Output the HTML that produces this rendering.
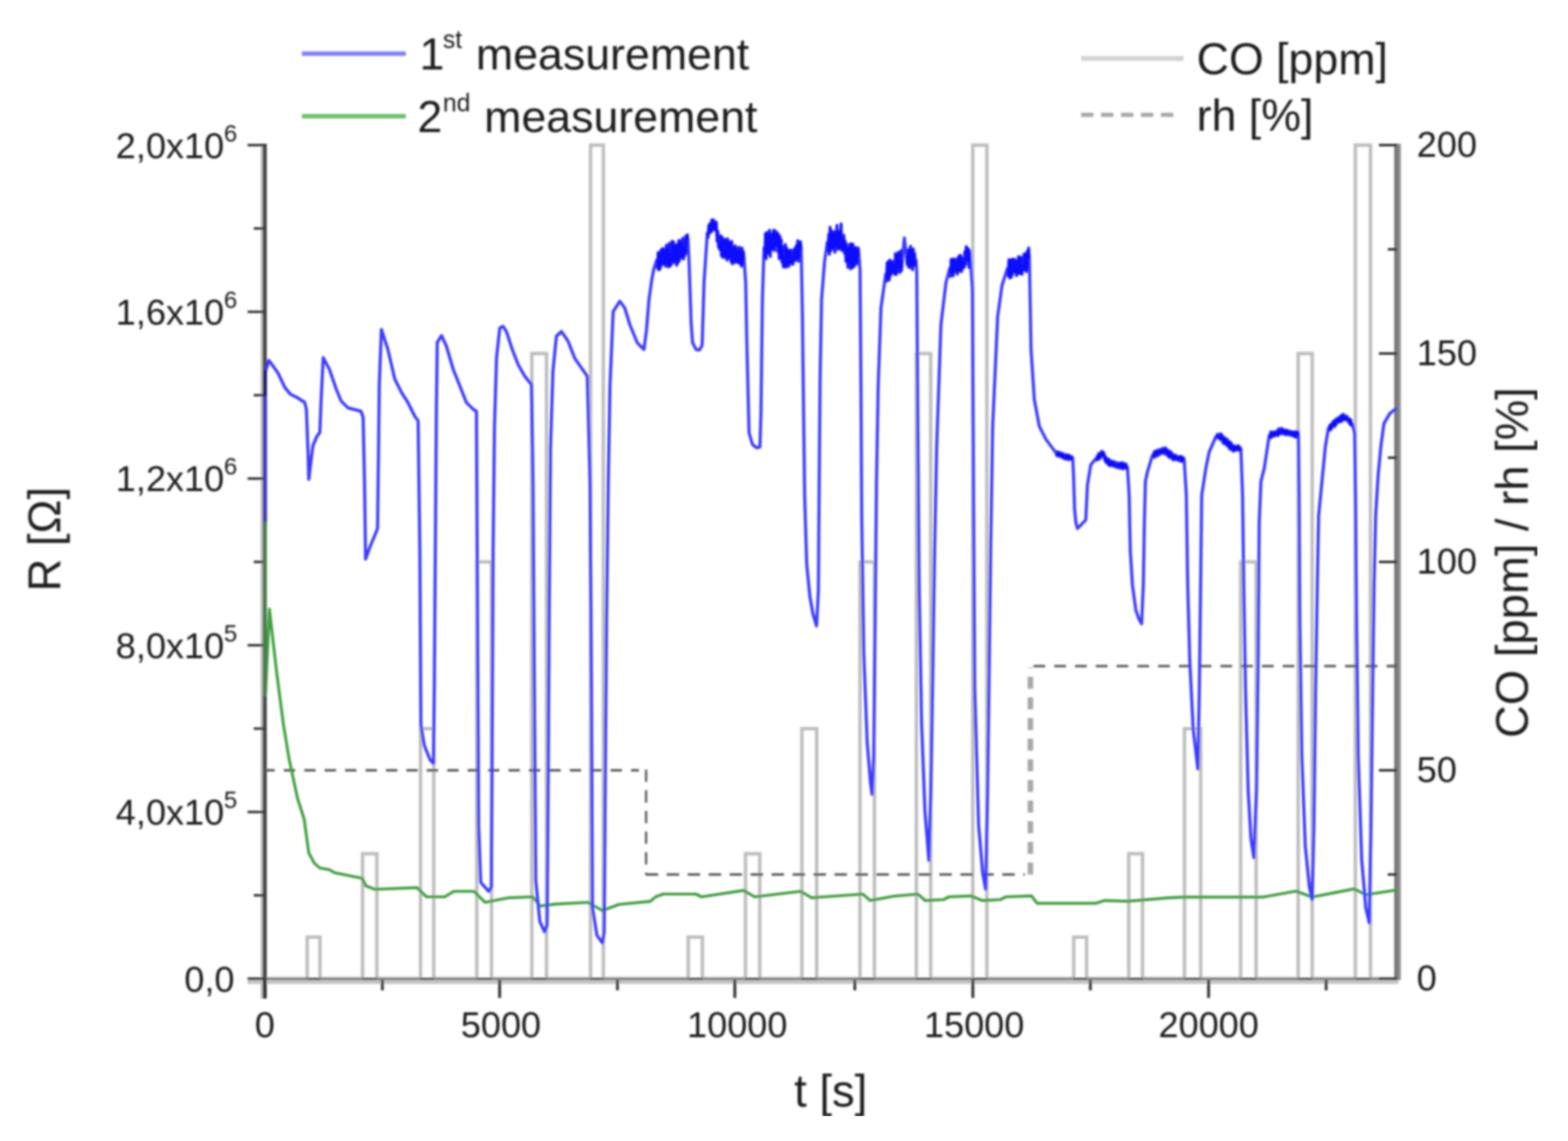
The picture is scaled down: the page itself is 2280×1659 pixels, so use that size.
<!DOCTYPE html>
<html><head><meta charset="utf-8"><title>Sensor response</title>
<style>
html,body{margin:0;padding:0;background:#fff;}
body{width:2280px;height:1659px;overflow:hidden;}
svg{display:block;}
</style></head><body>
<svg width="2280" height="1659" viewBox="0 0 2280 1659">
<rect width="2280" height="1659" fill="#ffffff"/>
<defs><filter id="soft" x="0" y="0" width="100%" height="100%"><feGaussianBlur stdDeviation="1.60"/></filter></defs>
<g filter="url(#soft)">
<polyline points="385.0,1423.0 446.7,1423.0 446.7,1362.4 465.3,1362.4 465.3,1423.0 527.2,1423.0 527.2,1241.2 548.0,1241.2 548.0,1423.0 611.5,1423.0 611.5,1059.4 630.7,1059.4 630.7,1423.0 693.3,1423.0 693.3,817.0 714.7,817.0 714.7,1423.0 773.3,1423.0 773.3,514.0 794.7,514.0 794.7,1423.0 858.7,1423.0 858.7,211.0 877.3,211.0 877.3,1423.0 1000.8,1423.0 1000.8,1362.4 1021.3,1362.4 1021.3,1423.0 1084.0,1423.0 1084.0,1241.2 1104.8,1241.2 1104.8,1423.0 1166.0,1423.0 1166.0,1059.4 1187.5,1059.4 1187.5,1423.0 1250.5,1423.0 1250.5,817.0 1271.5,817.0 1271.5,1423.0 1332.5,1423.0 1332.5,514.0 1353.3,514.0 1353.3,1423.0 1414.5,1423.0 1414.5,211.0 1435.0,211.0 1435.0,1423.0 1561.3,1423.0 1561.3,1362.4 1580.0,1362.4 1580.0,1423.0 1641.3,1423.0 1641.3,1241.2 1661.3,1241.2 1661.3,1423.0 1722.4,1423.0 1722.4,1059.4 1745.9,1059.4 1745.9,1423.0 1804.0,1423.0 1804.0,817.0 1826.5,817.0 1826.5,1423.0 1887.7,1423.0 1887.7,514.0 1908.0,514.0 1908.0,1423.0 1970.8,1423.0 1970.8,211.0 1992.8,211.0 1992.8,1423.0 2031.5,1423.0" fill="none" stroke="#bebebe" stroke-width="5" stroke-linejoin="miter"/>
<line x1="360" y1="1427.7" x2="2033.5" y2="1427.7" stroke="#c4c4c4" stroke-width="6"/>
<line x1="360" y1="1423.3" x2="2033.5" y2="1423.3" stroke="#757575" stroke-width="3"/>
<line x1="380.5" y1="209" x2="380.5" y2="1452" stroke="#bdbdbd" stroke-width="3"/>
<line x1="385" y1="209" x2="385" y2="1452" stroke="#4a4a4a" stroke-width="6"/>
<line x1="2030.5" y1="209" x2="2030.5" y2="1425" stroke="#777777" stroke-width="6.5"/>
<line x1="2035.3" y1="209" x2="2035.3" y2="1425" stroke="#8e8e8e" stroke-width="3.2"/>
<line x1="360" y1="1423.0" x2="385" y2="1423.0" stroke="#333" stroke-width="3.6"/>
<line x1="369" y1="1301.8" x2="385" y2="1301.8" stroke="#333" stroke-width="3.6"/>
<line x1="360" y1="1180.6" x2="385" y2="1180.6" stroke="#333" stroke-width="3.6"/>
<line x1="369" y1="1059.4" x2="385" y2="1059.4" stroke="#333" stroke-width="3.6"/>
<line x1="360" y1="938.2" x2="385" y2="938.2" stroke="#333" stroke-width="3.6"/>
<line x1="369" y1="817.0" x2="385" y2="817.0" stroke="#333" stroke-width="3.6"/>
<line x1="360" y1="695.8" x2="385" y2="695.8" stroke="#333" stroke-width="3.6"/>
<line x1="369" y1="574.6" x2="385" y2="574.6" stroke="#333" stroke-width="3.6"/>
<line x1="360" y1="453.4" x2="385" y2="453.4" stroke="#333" stroke-width="3.6"/>
<line x1="369" y1="332.2" x2="385" y2="332.2" stroke="#333" stroke-width="3.6"/>
<line x1="360" y1="211.0" x2="385" y2="211.0" stroke="#333" stroke-width="3.6"/>
<line x1="2005" y1="1423.0" x2="2031" y2="1423.0" stroke="#222" stroke-width="3.4"/>
<line x1="2018" y1="1271.5" x2="2031" y2="1271.5" stroke="#222" stroke-width="3.4"/>
<line x1="2005" y1="1120.0" x2="2031" y2="1120.0" stroke="#222" stroke-width="3.4"/>
<line x1="2018" y1="968.5" x2="2031" y2="968.5" stroke="#222" stroke-width="3.4"/>
<line x1="2005" y1="817.0" x2="2031" y2="817.0" stroke="#222" stroke-width="3.4"/>
<line x1="2018" y1="665.5" x2="2031" y2="665.5" stroke="#222" stroke-width="3.4"/>
<line x1="2005" y1="514.0" x2="2031" y2="514.0" stroke="#222" stroke-width="3.4"/>
<line x1="2018" y1="362.5" x2="2031" y2="362.5" stroke="#222" stroke-width="3.4"/>
<line x1="2005" y1="211.0" x2="2031" y2="211.0" stroke="#222" stroke-width="3.4"/>
<line x1="385.0" y1="1425" x2="385.0" y2="1451" stroke="#333" stroke-width="4.2"/>
<line x1="726.5" y1="1425" x2="726.5" y2="1451" stroke="#333" stroke-width="4.2"/>
<line x1="1068.5" y1="1425" x2="1068.5" y2="1451" stroke="#333" stroke-width="4.2"/>
<line x1="1414.6" y1="1425" x2="1414.6" y2="1451" stroke="#333" stroke-width="4.2"/>
<line x1="1757.4" y1="1425" x2="1757.4" y2="1451" stroke="#333" stroke-width="4.2"/>
<line x1="556.0" y1="1425" x2="556.0" y2="1440" stroke="#3a3a3a" stroke-width="4.2"/>
<line x1="897.8" y1="1425" x2="897.8" y2="1440" stroke="#3a3a3a" stroke-width="4.2"/>
<line x1="1243.0" y1="1425" x2="1243.0" y2="1440" stroke="#3a3a3a" stroke-width="4.2"/>
<line x1="1585.5" y1="1425" x2="1585.5" y2="1440" stroke="#3a3a3a" stroke-width="4.2"/>
<line x1="1928.3" y1="1425" x2="1928.3" y2="1440" stroke="#3a3a3a" stroke-width="4.2"/>
<line x1="446.7" y1="1423.3" x2="465.3" y2="1423.3" stroke="#444" stroke-width="3"/>
<line x1="527.2" y1="1423.3" x2="548.0" y2="1423.3" stroke="#444" stroke-width="3"/>
<line x1="611.5" y1="1423.3" x2="630.7" y2="1423.3" stroke="#444" stroke-width="3"/>
<line x1="693.3" y1="1423.3" x2="714.7" y2="1423.3" stroke="#444" stroke-width="3"/>
<line x1="773.3" y1="1423.3" x2="794.7" y2="1423.3" stroke="#444" stroke-width="3"/>
<line x1="858.7" y1="1423.3" x2="877.3" y2="1423.3" stroke="#444" stroke-width="3"/>
<line x1="1000.8" y1="1423.3" x2="1021.3" y2="1423.3" stroke="#444" stroke-width="3"/>
<line x1="1084.0" y1="1423.3" x2="1104.8" y2="1423.3" stroke="#444" stroke-width="3"/>
<line x1="1166.0" y1="1423.3" x2="1187.5" y2="1423.3" stroke="#444" stroke-width="3"/>
<line x1="1250.5" y1="1423.3" x2="1271.5" y2="1423.3" stroke="#444" stroke-width="3"/>
<line x1="1332.5" y1="1423.3" x2="1353.3" y2="1423.3" stroke="#444" stroke-width="3"/>
<line x1="1414.5" y1="1423.3" x2="1435.0" y2="1423.3" stroke="#444" stroke-width="3"/>
<line x1="1561.3" y1="1423.3" x2="1580.0" y2="1423.3" stroke="#444" stroke-width="3"/>
<line x1="1641.3" y1="1423.3" x2="1661.3" y2="1423.3" stroke="#444" stroke-width="3"/>
<line x1="1722.4" y1="1423.3" x2="1745.9" y2="1423.3" stroke="#444" stroke-width="3"/>
<line x1="1804.0" y1="1423.3" x2="1826.5" y2="1423.3" stroke="#444" stroke-width="3"/>
<line x1="1887.7" y1="1423.3" x2="1908.0" y2="1423.3" stroke="#444" stroke-width="3"/>
<line x1="1970.8" y1="1423.3" x2="1992.8" y2="1423.3" stroke="#444" stroke-width="3"/>
<line x1="383.0" y1="1120.0" x2="929.0" y2="1120.0" stroke="#555" stroke-width="3.3" stroke-dasharray="16.5,13.2"/>
<line x1="939.5" y1="1119.0" x2="939.5" y2="1271.5" stroke="#5c5c5c" stroke-width="3.3" stroke-dasharray="18,12"/>
<line x1="939.0" y1="1271.5" x2="1490.0" y2="1271.5" stroke="#555" stroke-width="3.3" stroke-dasharray="18,12.5"/>
<line x1="1498.3" y1="1271.5" x2="1498.3" y2="970.5" stroke="#a8a8a8" stroke-width="8.0" stroke-dasharray="17.5,12.5"/>
<line x1="1502.8" y1="968.5" x2="2031.5" y2="968.5" stroke="#5a5a5a" stroke-width="3.3" stroke-dasharray="17,13.2"/>
<polyline points="386.0,759.0 386.0,1011.0 391.8,885.5 394.5,910.0 402.7,981.0 412.3,1054.5 420.4,1103.6 424.5,1122.7 432.7,1161.0 442.3,1191.0 449.0,1240.0 457.0,1255.0 465.0,1262.0 479.0,1264.5 486.7,1269.0 526.7,1277.0 532.0,1288.0 545.0,1293.0 606.7,1290.7 620.0,1304.0 646.7,1304.0 660.0,1296.0 689.3,1296.0 705.3,1312.0 740.0,1305.3 774.7,1304.0 785.3,1317.3 806.7,1314.7 854.7,1312.0 876.0,1324.0 900.0,1315.0 945.3,1310.7 953.3,1304.0 964.0,1300.0 1012.0,1300.0 1020.0,1304.0 1081.3,1294.7 1097.3,1304.0 1164.0,1296.0 1180.0,1305.3 1254.7,1300.0 1265.3,1309.3 1300.0,1303.0 1334.7,1300.0 1345.3,1309.3 1372.0,1308.0 1380.0,1304.0 1412.0,1302.7 1428.0,1309.3 1454.7,1308.0 1462.7,1304.0 1500.0,1302.7 1508.0,1313.3 1593.3,1313.3 1606.7,1309.3 1640.0,1310.4 1700.0,1305.3 1721.4,1304.3 1836.8,1304.3 1884.3,1295.8 1908.0,1304.3 1969.0,1292.4 1986.0,1301.0 2031.0,1294.0" fill="none" stroke="#3d9f3d" stroke-width="4.2" stroke-linejoin="round" stroke-linecap="round"/>
<polyline points="386.0,759.0 386.0,540.0 391.0,524.0 404.0,542.0 414.0,563.0 422.0,573.0 432.0,578.0 443.0,585.0 445.5,595.0 448.0,660.0 449.0,697.0 452.0,672.0 455.0,648.0 461.0,634.0 465.0,629.0 467.0,580.0 470.0,520.0 479.0,537.0 489.0,566.0 496.0,583.0 506.0,593.0 525.0,598.0 528.0,607.0 530.0,700.0 531.6,813.0 537.6,796.0 546.0,776.0 549.0,768.0 550.5,650.0 551.5,560.0 554.6,479.0 564.0,508.0 574.0,551.0 584.0,571.0 593.0,585.0 603.0,605.0 608.0,612.0 610.5,800.0 612.0,1054.0 617.0,1084.0 625.5,1105.0 630.3,1110.0 631.5,1000.0 633.0,800.0 634.5,600.0 635.8,498.0 642.0,488.0 649.0,503.0 659.0,537.0 668.6,561.0 678.0,585.0 688.0,595.0 692.8,598.0 694.0,828.0 696.0,1200.0 699.0,1283.0 710.7,1296.0 714.5,1290.0 716.0,1000.0 717.0,800.0 719.0,620.0 722.0,520.0 726.7,477.0 731.5,474.5 736.4,482.0 745.0,508.5 753.4,530.0 763.0,547.0 772.8,559.0 775.0,700.0 777.0,1000.0 779.0,1280.0 785.0,1340.0 792.0,1355.0 795.5,1345.0 797.0,1150.0 798.5,900.0 800.5,650.0 804.0,540.0 809.0,489.0 816.4,482.0 826.0,496.0 835.8,521.0 845.5,535.0 854.0,547.0 858.0,700.0 860.0,1000.0 861.5,1320.0 868.0,1360.0 876.0,1371.0 878.5,1355.0 880.0,1150.0 882.0,900.0 884.5,700.0 887.0,560.0 891.6,453.0 901.3,438.0 908.6,448.0 915.8,472.0 926.7,498.5 936.4,508.2 940.0,480.0 943.7,435.5 948.0,405.0 951.0,390.0 955.0,378.0 956.0,389.8 957.0,367.2 958.0,392.6 959.0,367.4 960.0,390.8 961.0,363.7 962.0,385.2 963.0,361.6 964.0,384.3 965.0,361.8 966.0,384.1 967.0,364.8 968.0,387.2 969.0,356.4 970.0,383.4 971.0,362.2 972.0,388.2 973.0,354.0 974.0,387.0 975.0,372.0 976.0,385.1 977.0,350.9 978.0,380.2 979.0,351.2 980.0,381.9 981.0,358.2 982.0,379.0 983.0,355.4 984.0,385.8 985.0,355.8 986.0,382.2 987.0,349.7 988.0,378.9 989.0,349.7 990.0,374.4 991.0,354.2 992.0,375.0 993.0,346.2 994.0,376.5 995.0,362.0 996.1,370.8 997.2,343.3 998.3,367.4 999.4,341.3 1000.5,350.0 1002.0,382.0 1005.0,470.0 1007.0,498.0 1012.0,508.0 1017.0,509.0 1021.0,502.0 1023.7,411.0 1028.5,338.5 1029.6,345.4 1030.7,327.2 1031.8,339.2 1032.9,324.5 1034.0,337.3 1035.0,319.7 1036.1,335.1 1037.2,319.5 1038.3,333.1 1039.4,322.0 1040.5,334.9 1041.6,323.2 1042.7,351.0 1043.8,336.3 1044.9,359.9 1046.0,355.0 1047.0,363.6 1048.0,342.7 1049.0,371.8 1050.0,345.0 1051.0,374.2 1052.0,348.8 1053.0,374.0 1054.0,347.7 1055.0,374.3 1056.0,350.4 1057.0,378.2 1058.0,347.3 1059.0,376.2 1060.0,351.3 1061.0,373.8 1062.0,352.4 1063.0,380.7 1064.0,351.1 1065.0,383.7 1066.0,359.1 1067.0,370.0 1068.0,381.7 1069.0,357.3 1070.0,379.4 1071.0,360.3 1072.0,381.8 1073.0,364.6 1074.0,381.8 1075.0,359.6 1076.0,383.6 1077.0,365.5 1078.0,387.0 1079.0,360.8 1080.0,385.2 1081.0,365.8 1082.0,378.0 1084.3,411.0 1086.0,500.0 1089.2,629.0 1094.0,646.0 1100.0,651.0 1105.0,650.0 1106.5,600.0 1108.6,435.5 1111.0,360.0 1112.0,374.6 1113.0,339.4 1114.0,376.1 1115.0,338.1 1116.0,368.5 1117.0,341.6 1118.0,367.9 1119.0,334.8 1120.0,373.0 1121.0,341.5 1122.0,362.7 1123.0,339.0 1124.0,361.9 1125.0,334.7 1126.0,364.3 1127.0,335.6 1128.0,347.0 1129.0,357.8 1130.0,338.1 1131.0,365.8 1132.0,340.7 1133.0,376.1 1134.0,343.6 1135.0,375.7 1136.0,348.5 1137.0,381.5 1138.0,358.6 1139.0,388.1 1140.0,372.0 1141.0,388.0 1142.0,355.6 1143.0,388.5 1144.0,360.7 1145.0,384.9 1146.0,363.9 1147.0,387.5 1148.0,364.6 1149.0,382.3 1150.0,363.5 1151.0,383.5 1152.0,374.0 1153.0,384.5 1154.0,363.5 1155.0,379.3 1156.0,360.7 1157.0,378.5 1158.0,356.8 1159.0,375.9 1160.0,349.9 1161.0,379.9 1162.0,355.2 1163.0,374.4 1164.0,351.4 1165.0,362.0 1166.8,460.0 1168.5,600.0 1170.0,720.0 1173.0,820.0 1177.6,867.0 1182.0,892.0 1187.3,910.0 1190.0,860.0 1191.2,700.0 1192.5,550.0 1194.6,435.5 1199.0,380.0 1203.0,352.0 1204.0,364.9 1205.0,340.8 1206.0,369.8 1207.0,330.4 1208.0,364.8 1209.0,335.5 1210.0,359.9 1211.0,339.1 1212.0,362.2 1213.0,336.7 1214.0,367.0 1215.0,337.2 1216.0,357.3 1217.0,327.7 1218.0,362.3 1219.0,336.1 1220.0,361.9 1221.0,336.8 1222.0,361.1 1223.0,325.5 1224.0,364.2 1225.0,345.0 1226.0,363.8 1227.0,342.0 1228.0,368.3 1229.0,350.7 1230.0,380.0 1231.0,354.8 1232.0,372.0 1233.0,388.9 1234.0,359.9 1235.0,383.0 1236.0,354.8 1237.0,391.0 1238.0,354.4 1239.0,389.2 1240.0,354.7 1241.0,388.5 1242.0,361.0 1243.0,386.1 1244.0,359.6 1245.0,380.9 1246.0,363.1 1247.0,383.6 1248.0,360.6 1249.0,372.0 1250.6,392.0 1251.8,550.0 1253.0,750.0 1256.0,950.0 1261.0,1080.0 1266.0,1140.0 1268.0,1155.0 1270.5,1100.0 1272.5,900.0 1274.5,700.0 1277.0,560.0 1281.0,447.6 1288.0,398.0 1289.0,409.0 1290.0,381.9 1291.0,405.0 1292.0,380.1 1293.0,407.3 1294.0,378.0 1295.0,400.4 1296.0,381.8 1297.0,397.3 1298.0,380.0 1299.0,395.1 1300.0,386.0 1301.0,398.7 1302.0,368.8 1303.0,399.3 1304.0,371.3 1305.0,396.3 1306.0,367.1 1307.0,389.7 1308.0,367.0 1309.0,396.0 1310.0,364.5 1311.0,393.2 1312.0,378.0 1315.0,346.0 1318.0,372.0 1319.0,384.4 1320.0,363.6 1321.0,388.1 1322.0,363.1 1323.0,389.1 1324.0,358.0 1325.0,386.2 1326.0,364.2 1327.0,392.2 1328.0,362.0 1329.0,385.8 1330.0,368.4 1331.0,386.5 1332.0,378.0 1333.0,394.0 1334.5,600.0 1336.5,850.0 1340.0,1050.0 1345.0,1180.0 1350.7,1251.0 1353.5,1150.0 1356.0,1000.0 1359.0,800.0 1362.0,650.0 1368.2,472.0 1375.5,411.0 1381.0,390.0 1382.0,402.1 1383.0,377.4 1384.0,395.8 1385.0,376.5 1386.0,401.1 1387.0,376.9 1388.0,395.7 1389.0,376.9 1390.0,393.3 1391.0,380.0 1392.0,398.6 1393.0,374.5 1394.0,394.6 1395.0,371.7 1396.0,393.1 1397.0,371.3 1398.0,395.1 1399.0,375.3 1400.0,390.2 1401.0,382.0 1402.0,388.9 1403.0,365.4 1404.0,384.8 1405.0,358.4 1406.0,365.0 1407.0,379.0 1408.0,361.4 1409.0,388.8 1410.0,364.6 1411.0,378.0 1414.0,420.0 1415.5,700.0 1417.3,1000.0 1423.0,1200.0 1429.0,1270.0 1433.3,1293.0 1436.0,1150.0 1438.0,1000.0 1440.5,800.0 1443.4,620.0 1450.7,460.0 1457.0,415.0 1465.0,390.0 1466.0,400.7 1467.0,377.5 1468.0,404.1 1469.0,378.5 1470.0,403.8 1471.0,377.3 1472.0,400.0 1473.0,376.7 1474.0,395.1 1475.0,376.9 1476.0,396.1 1477.0,380.2 1478.0,400.9 1479.0,378.3 1480.0,397.7 1481.0,373.1 1482.0,397.9 1483.0,376.1 1484.0,397.1 1485.0,373.7 1486.0,399.0 1487.0,385.0 1488.1,393.0 1489.2,369.1 1490.3,392.2 1491.4,369.7 1492.4,395.2 1493.5,365.2 1494.6,390.9 1495.7,360.5 1496.8,375.0 1498.0,440.0 1499.2,508.0 1504.0,581.0 1511.3,620.0 1521.0,639.0 1535.6,658.5 1536.6,662.4 1537.7,656.9 1538.7,662.7 1539.7,657.7 1540.8,663.4 1541.8,658.3 1542.8,664.2 1543.9,659.5 1544.9,665.2 1545.9,659.6 1547.0,666.5 1548.0,664.0 1549.1,667.5 1550.1,660.9 1551.2,666.7 1552.3,662.0 1553.4,668.4 1554.4,661.8 1555.5,667.2 1556.6,663.6 1557.7,668.1 1558.7,664.1 1559.8,666.0 1561.0,690.0 1562.5,740.0 1564.3,759.0 1566.7,768.5 1572.0,763.0 1578.8,756.0 1581.2,705.5 1586.0,676.0 1593.4,667.0 1594.5,668.9 1595.6,662.9 1596.6,668.3 1597.7,659.2 1598.8,667.1 1599.9,659.1 1600.9,664.8 1602.0,656.0 1603.1,659.0 1604.1,663.3 1605.2,658.1 1606.2,669.1 1607.2,663.4 1608.2,672.6 1609.3,666.5 1610.3,671.5 1611.3,675.3 1612.3,667.5 1613.3,677.0 1614.4,670.4 1615.4,676.7 1616.4,670.2 1617.4,677.2 1618.4,671.8 1619.5,677.9 1620.5,671.2 1621.5,677.8 1622.5,676.0 1623.6,679.8 1624.6,673.1 1625.7,678.8 1626.7,673.7 1627.8,680.7 1628.8,673.6 1629.9,679.6 1631.0,672.7 1632.0,681.9 1633.1,673.1 1634.1,680.5 1635.2,675.4 1636.2,680.7 1637.3,674.4 1638.3,681.7 1639.4,679.0 1641.9,720.0 1643.5,800.0 1646.7,851.0 1651.6,887.0 1656.0,900.0 1660.0,907.0 1662.5,850.0 1664.0,760.0 1665.5,700.0 1668.5,686.0 1675.8,662.0 1676.9,663.9 1678.0,657.6 1679.0,664.9 1680.1,655.5 1681.2,662.1 1682.3,656.1 1683.3,662.7 1684.4,653.9 1685.5,657.0 1686.6,660.7 1687.7,654.0 1688.7,658.5 1689.8,651.9 1690.9,658.9 1692.0,653.0 1693.0,659.7 1694.1,650.9 1695.2,654.5 1696.3,660.9 1697.4,653.6 1698.4,663.2 1699.5,655.8 1700.6,665.3 1701.7,656.6 1702.7,665.7 1703.8,658.4 1704.9,664.0 1705.9,668.9 1706.9,661.7 1707.9,667.4 1708.9,661.6 1709.9,668.3 1710.9,663.3 1711.9,668.6 1712.9,664.1 1713.9,669.3 1714.9,664.0 1715.9,670.2 1716.9,663.4 1717.9,670.7 1718.9,664.6 1719.9,671.0 1720.9,665.6 1721.9,669.0 1725.0,720.0 1727.0,850.0 1730.0,960.0 1735.0,1060.0 1741.8,1118.0 1744.0,1000.0 1745.8,850.0 1747.4,720.0 1753.4,681.0 1758.3,657.0 1768.0,635.0 1769.2,636.7 1770.4,631.2 1771.6,635.7 1772.8,633.0 1773.9,639.1 1775.0,630.5 1776.0,639.3 1777.1,632.7 1778.2,643.8 1779.3,635.9 1780.3,645.4 1781.4,636.9 1782.5,642.0 1783.6,647.4 1784.7,638.8 1785.7,649.3 1786.8,642.1 1787.9,652.5 1789.0,642.7 1790.0,653.6 1791.1,645.4 1792.2,652.0 1793.2,656.0 1794.2,648.2 1795.2,655.2 1796.2,648.9 1797.2,654.3 1798.2,649.5 1799.3,654.3 1800.3,647.9 1801.3,654.8 1802.3,649.4 1803.3,654.4 1804.3,652.0 1806.8,720.0 1808.5,850.0 1811.0,1000.0 1815.0,1150.0 1819.0,1220.0 1823.2,1247.0 1827.0,1150.0 1829.5,950.0 1831.0,760.0 1833.5,700.0 1838.3,681.0 1845.6,633.0 1846.7,637.0 1847.8,627.9 1848.8,635.9 1849.9,628.8 1851.0,634.1 1852.1,628.1 1853.1,634.0 1854.2,627.8 1855.3,630.0 1856.4,632.8 1857.5,626.1 1858.5,633.2 1859.6,623.3 1860.7,631.1 1861.8,627.0 1862.8,630.0 1863.8,622.8 1864.8,630.7 1865.9,624.8 1866.9,630.3 1867.9,625.2 1868.9,632.0 1869.9,625.4 1870.9,631.8 1872.0,625.8 1873.0,631.7 1874.0,626.9 1875.0,630.0 1876.0,632.6 1877.0,627.1 1878.0,632.7 1879.0,628.4 1880.0,633.7 1881.0,628.1 1882.0,634.8 1883.0,627.7 1884.0,635.5 1885.0,627.6 1886.0,635.7 1887.0,627.4 1888.0,632.0 1889.0,720.0 1890.0,900.0 1893.0,1100.0 1898.0,1230.0 1904.0,1290.0 1908.0,1308.0 1910.5,1200.0 1913.0,1000.0 1915.5,850.0 1917.4,750.0 1922.9,693.0 1927.2,649.0 1931.6,623.0 1932.6,625.3 1933.6,618.3 1934.6,625.2 1935.6,617.1 1936.6,622.8 1937.6,614.1 1938.7,619.4 1939.7,611.9 1940.7,619.9 1941.7,610.7 1942.7,617.8 1943.7,608.5 1944.7,612.0 1945.8,613.9 1946.9,607.2 1948.0,613.5 1949.1,605.0 1950.2,613.0 1951.2,603.8 1952.3,611.2 1953.4,602.3 1954.5,610.1 1955.6,605.5 1956.7,610.5 1957.8,604.8 1958.9,610.9 1960.0,607.2 1961.0,613.9 1962.1,609.4 1963.2,617.2 1964.3,610.3 1965.4,618.8 1966.5,616.0 1969.8,630.0 1971.0,720.0 1972.5,900.0 1975.0,1100.0 1980.0,1250.0 1986.0,1320.0 1991.1,1342.0 1993.5,1200.0 1996.0,1000.0 1998.0,850.0 2000.3,750.0 2004.0,690.0 2007.9,649.0 2012.3,616.0 2021.0,601.0 2029.7,594.5" fill="none" stroke="#3b3bff" stroke-width="4.5" stroke-linejoin="round" stroke-linecap="round"/>
<polyline points="955.0,378.0 956.0,389.8 957.0,367.2 958.0,392.6 959.0,367.4 960.0,390.8 961.0,363.7 962.0,385.2 963.0,361.6 964.0,384.3 965.0,361.8 966.0,384.1 967.0,364.8 968.0,387.2 969.0,356.4 970.0,383.4 971.0,362.2 972.0,388.2 973.0,354.0 974.0,387.0 975.0,372.0" fill="none" stroke="#0c0cff" stroke-width="2.6" stroke-linejoin="round"/>
<polyline points="975.0,372.0 976.0,385.1 977.0,350.9 978.0,380.2 979.0,351.2 980.0,381.9 981.0,358.2 982.0,379.0 983.0,355.4 984.0,385.8 985.0,355.8 986.0,382.2 987.0,349.7 988.0,378.9 989.0,349.7 990.0,374.4 991.0,354.2 992.0,375.0 993.0,346.2 994.0,376.5 995.0,362.0" fill="none" stroke="#0c0cff" stroke-width="2.6" stroke-linejoin="round"/>
<polyline points="995.0,362.0 996.1,370.8 997.2,343.3 998.3,367.4 999.4,341.3 1000.5,350.0" fill="none" stroke="#0c0cff" stroke-width="2.6" stroke-linejoin="round"/>
<polyline points="1028.5,338.5 1029.6,345.4 1030.7,327.2 1031.8,339.2 1032.9,324.5 1034.0,337.3 1035.0,319.7 1036.1,335.1 1037.2,319.5 1038.3,333.1 1039.4,322.0" fill="none" stroke="#0c0cff" stroke-width="2.6" stroke-linejoin="round"/>
<polyline points="1039.4,322.0 1040.5,334.9 1041.6,323.2 1042.7,351.0 1043.8,336.3 1044.9,359.9 1046.0,355.0" fill="none" stroke="#0c0cff" stroke-width="2.6" stroke-linejoin="round"/>
<polyline points="1046.0,355.0 1047.0,363.6 1048.0,342.7 1049.0,371.8 1050.0,345.0 1051.0,374.2 1052.0,348.8 1053.0,374.0 1054.0,347.7 1055.0,374.3 1056.0,350.4 1057.0,378.2 1058.0,347.3 1059.0,376.2 1060.0,351.3 1061.0,373.8 1062.0,352.4 1063.0,380.7 1064.0,351.1 1065.0,383.7 1066.0,359.1 1067.0,370.0" fill="none" stroke="#0c0cff" stroke-width="2.6" stroke-linejoin="round"/>
<polyline points="1067.0,370.0 1068.0,381.7 1069.0,357.3 1070.0,379.4 1071.0,360.3 1072.0,381.8 1073.0,364.6 1074.0,381.8 1075.0,359.6 1076.0,383.6 1077.0,365.5 1078.0,387.0 1079.0,360.8 1080.0,385.2 1081.0,365.8 1082.0,378.0" fill="none" stroke="#0c0cff" stroke-width="2.6" stroke-linejoin="round"/>
<polyline points="1111.0,360.0 1112.0,374.6 1113.0,339.4 1114.0,376.1 1115.0,338.1 1116.0,368.5 1117.0,341.6 1118.0,367.9 1119.0,334.8 1120.0,373.0 1121.0,341.5 1122.0,362.7 1123.0,339.0 1124.0,361.9 1125.0,334.7 1126.0,364.3 1127.0,335.6 1128.0,347.0" fill="none" stroke="#0c0cff" stroke-width="2.6" stroke-linejoin="round"/>
<polyline points="1128.0,347.0 1129.0,357.8 1130.0,338.1 1131.0,365.8 1132.0,340.7 1133.0,376.1 1134.0,343.6 1135.0,375.7 1136.0,348.5 1137.0,381.5 1138.0,358.6 1139.0,388.1 1140.0,372.0" fill="none" stroke="#0c0cff" stroke-width="2.6" stroke-linejoin="round"/>
<polyline points="1140.0,372.0 1141.0,388.0 1142.0,355.6 1143.0,388.5 1144.0,360.7 1145.0,384.9 1146.0,363.9 1147.0,387.5 1148.0,364.6 1149.0,382.3 1150.0,363.5 1151.0,383.5 1152.0,374.0" fill="none" stroke="#0c0cff" stroke-width="2.6" stroke-linejoin="round"/>
<polyline points="1152.0,374.0 1153.0,384.5 1154.0,363.5 1155.0,379.3 1156.0,360.7 1157.0,378.5 1158.0,356.8 1159.0,375.9 1160.0,349.9 1161.0,379.9 1162.0,355.2 1163.0,374.4 1164.0,351.4 1165.0,362.0" fill="none" stroke="#0c0cff" stroke-width="2.6" stroke-linejoin="round"/>
<polyline points="1203.0,352.0 1204.0,364.9 1205.0,340.8 1206.0,369.8 1207.0,330.4 1208.0,364.8 1209.0,335.5 1210.0,359.9 1211.0,339.1 1212.0,362.2 1213.0,336.7 1214.0,367.0 1215.0,337.2 1216.0,357.3 1217.0,327.7 1218.0,362.3 1219.0,336.1 1220.0,361.9 1221.0,336.8 1222.0,361.1 1223.0,325.5 1224.0,364.2 1225.0,345.0" fill="none" stroke="#0c0cff" stroke-width="2.6" stroke-linejoin="round"/>
<polyline points="1225.0,345.0 1226.0,363.8 1227.0,342.0 1228.0,368.3 1229.0,350.7 1230.0,380.0 1231.0,354.8 1232.0,372.0" fill="none" stroke="#0c0cff" stroke-width="2.6" stroke-linejoin="round"/>
<polyline points="1232.0,372.0 1233.0,388.9 1234.0,359.9 1235.0,383.0 1236.0,354.8 1237.0,391.0 1238.0,354.4 1239.0,389.2 1240.0,354.7 1241.0,388.5 1242.0,361.0 1243.0,386.1 1244.0,359.6 1245.0,380.9 1246.0,363.1 1247.0,383.6 1248.0,360.6 1249.0,372.0" fill="none" stroke="#0c0cff" stroke-width="2.6" stroke-linejoin="round"/>
<polyline points="1288.0,398.0 1289.0,409.0 1290.0,381.9 1291.0,405.0 1292.0,380.1 1293.0,407.3 1294.0,378.0 1295.0,400.4 1296.0,381.8 1297.0,397.3 1298.0,380.0 1299.0,395.1 1300.0,386.0" fill="none" stroke="#0c0cff" stroke-width="2.6" stroke-linejoin="round"/>
<polyline points="1300.0,386.0 1301.0,398.7 1302.0,368.8 1303.0,399.3 1304.0,371.3 1305.0,396.3 1306.0,367.1 1307.0,389.7 1308.0,367.0 1309.0,396.0 1310.0,364.5 1311.0,393.2 1312.0,378.0" fill="none" stroke="#0c0cff" stroke-width="2.6" stroke-linejoin="round"/>
<polyline points="1318.0,372.0 1319.0,384.4 1320.0,363.6 1321.0,388.1 1322.0,363.1 1323.0,389.1 1324.0,358.0 1325.0,386.2 1326.0,364.2 1327.0,392.2 1328.0,362.0 1329.0,385.8 1330.0,368.4 1331.0,386.5 1332.0,378.0" fill="none" stroke="#0c0cff" stroke-width="2.6" stroke-linejoin="round"/>
<polyline points="1381.0,390.0 1382.0,402.1 1383.0,377.4 1384.0,395.8 1385.0,376.5 1386.0,401.1 1387.0,376.9 1388.0,395.7 1389.0,376.9 1390.0,393.3 1391.0,380.0 1392.0,398.6 1393.0,374.5 1394.0,394.6 1395.0,371.7 1396.0,393.1 1397.0,371.3 1398.0,395.1 1399.0,375.3 1400.0,390.2 1401.0,382.0" fill="none" stroke="#0c0cff" stroke-width="2.6" stroke-linejoin="round"/>
<polyline points="1401.0,382.0 1402.0,388.9 1403.0,365.4 1404.0,384.8 1405.0,358.4 1406.0,365.0" fill="none" stroke="#0c0cff" stroke-width="2.6" stroke-linejoin="round"/>
<polyline points="1406.0,365.0 1407.0,379.0 1408.0,361.4 1409.0,388.8 1410.0,364.6 1411.0,378.0" fill="none" stroke="#0c0cff" stroke-width="2.6" stroke-linejoin="round"/>
<polyline points="1465.0,390.0 1466.0,400.7 1467.0,377.5 1468.0,404.1 1469.0,378.5 1470.0,403.8 1471.0,377.3 1472.0,400.0 1473.0,376.7 1474.0,395.1 1475.0,376.9 1476.0,396.1 1477.0,380.2 1478.0,400.9 1479.0,378.3 1480.0,397.7 1481.0,373.1 1482.0,397.9 1483.0,376.1 1484.0,397.1 1485.0,373.7 1486.0,399.0 1487.0,385.0" fill="none" stroke="#0c0cff" stroke-width="2.6" stroke-linejoin="round"/>
<polyline points="1487.0,385.0 1488.1,393.0 1489.2,369.1 1490.3,392.2 1491.4,369.7 1492.4,395.2 1493.5,365.2 1494.6,390.9 1495.7,360.5 1496.8,375.0" fill="none" stroke="#0c0cff" stroke-width="2.6" stroke-linejoin="round"/>
<polyline points="1535.6,658.5 1536.6,662.4 1537.7,656.9 1538.7,662.7 1539.7,657.7 1540.8,663.4 1541.8,658.3 1542.8,664.2 1543.9,659.5 1544.9,665.2 1545.9,659.6 1547.0,666.5 1548.0,664.0" fill="none" stroke="#0c0cff" stroke-width="2.6" stroke-linejoin="round"/>
<polyline points="1548.0,664.0 1549.1,667.5 1550.1,660.9 1551.2,666.7 1552.3,662.0 1553.4,668.4 1554.4,661.8 1555.5,667.2 1556.6,663.6 1557.7,668.1 1558.7,664.1 1559.8,666.0" fill="none" stroke="#0c0cff" stroke-width="2.6" stroke-linejoin="round"/>
<polyline points="1593.4,667.0 1594.5,668.9 1595.6,662.9 1596.6,668.3 1597.7,659.2 1598.8,667.1 1599.9,659.1 1600.9,664.8 1602.0,656.0 1603.1,659.0" fill="none" stroke="#0c0cff" stroke-width="2.6" stroke-linejoin="round"/>
<polyline points="1603.1,659.0 1604.1,663.3 1605.2,658.1 1606.2,669.1 1607.2,663.4 1608.2,672.6 1609.3,666.5 1610.3,671.5" fill="none" stroke="#0c0cff" stroke-width="2.6" stroke-linejoin="round"/>
<polyline points="1610.3,671.5 1611.3,675.3 1612.3,667.5 1613.3,677.0 1614.4,670.4 1615.4,676.7 1616.4,670.2 1617.4,677.2 1618.4,671.8 1619.5,677.9 1620.5,671.2 1621.5,677.8 1622.5,676.0" fill="none" stroke="#0c0cff" stroke-width="2.6" stroke-linejoin="round"/>
<polyline points="1622.5,676.0 1623.6,679.8 1624.6,673.1 1625.7,678.8 1626.7,673.7 1627.8,680.7 1628.8,673.6 1629.9,679.6 1631.0,672.7 1632.0,681.9 1633.1,673.1 1634.1,680.5 1635.2,675.4 1636.2,680.7 1637.3,674.4 1638.3,681.7 1639.4,679.0" fill="none" stroke="#0c0cff" stroke-width="2.6" stroke-linejoin="round"/>
<polyline points="1675.8,662.0 1676.9,663.9 1678.0,657.6 1679.0,664.9 1680.1,655.5 1681.2,662.1 1682.3,656.1 1683.3,662.7 1684.4,653.9 1685.5,657.0" fill="none" stroke="#0c0cff" stroke-width="2.6" stroke-linejoin="round"/>
<polyline points="1685.5,657.0 1686.6,660.7 1687.7,654.0 1688.7,658.5 1689.8,651.9 1690.9,658.9 1692.0,653.0 1693.0,659.7 1694.1,650.9 1695.2,654.5" fill="none" stroke="#0c0cff" stroke-width="2.6" stroke-linejoin="round"/>
<polyline points="1695.2,654.5 1696.3,660.9 1697.4,653.6 1698.4,663.2 1699.5,655.8 1700.6,665.3 1701.7,656.6 1702.7,665.7 1703.8,658.4 1704.9,664.0" fill="none" stroke="#0c0cff" stroke-width="2.6" stroke-linejoin="round"/>
<polyline points="1704.9,664.0 1705.9,668.9 1706.9,661.7 1707.9,667.4 1708.9,661.6 1709.9,668.3 1710.9,663.3 1711.9,668.6 1712.9,664.1 1713.9,669.3 1714.9,664.0 1715.9,670.2 1716.9,663.4 1717.9,670.7 1718.9,664.6 1719.9,671.0 1720.9,665.6 1721.9,669.0" fill="none" stroke="#0c0cff" stroke-width="2.6" stroke-linejoin="round"/>
<polyline points="1768.0,635.0 1769.2,636.7 1770.4,631.2 1771.6,635.7 1772.8,633.0" fill="none" stroke="#0c0cff" stroke-width="2.6" stroke-linejoin="round"/>
<polyline points="1772.8,633.0 1773.9,639.1 1775.0,630.5 1776.0,639.3 1777.1,632.7 1778.2,643.8 1779.3,635.9 1780.3,645.4 1781.4,636.9 1782.5,642.0" fill="none" stroke="#0c0cff" stroke-width="2.6" stroke-linejoin="round"/>
<polyline points="1782.5,642.0 1783.6,647.4 1784.7,638.8 1785.7,649.3 1786.8,642.1 1787.9,652.5 1789.0,642.7 1790.0,653.6 1791.1,645.4 1792.2,652.0" fill="none" stroke="#0c0cff" stroke-width="2.6" stroke-linejoin="round"/>
<polyline points="1792.2,652.0 1793.2,656.0 1794.2,648.2 1795.2,655.2 1796.2,648.9 1797.2,654.3 1798.2,649.5 1799.3,654.3 1800.3,647.9 1801.3,654.8 1802.3,649.4 1803.3,654.4 1804.3,652.0" fill="none" stroke="#0c0cff" stroke-width="2.6" stroke-linejoin="round"/>
<polyline points="1845.6,633.0 1846.7,637.0 1847.8,627.9 1848.8,635.9 1849.9,628.8 1851.0,634.1 1852.1,628.1 1853.1,634.0 1854.2,627.8 1855.3,630.0" fill="none" stroke="#0c0cff" stroke-width="2.6" stroke-linejoin="round"/>
<polyline points="1855.3,630.0 1856.4,632.8 1857.5,626.1 1858.5,633.2 1859.6,623.3 1860.7,631.1 1861.8,627.0" fill="none" stroke="#0c0cff" stroke-width="2.6" stroke-linejoin="round"/>
<polyline points="1861.8,627.0 1862.8,630.0 1863.8,622.8 1864.8,630.7 1865.9,624.8 1866.9,630.3 1867.9,625.2 1868.9,632.0 1869.9,625.4 1870.9,631.8 1872.0,625.8 1873.0,631.7 1874.0,626.9 1875.0,630.0" fill="none" stroke="#0c0cff" stroke-width="2.6" stroke-linejoin="round"/>
<polyline points="1875.0,630.0 1876.0,632.6 1877.0,627.1 1878.0,632.7 1879.0,628.4 1880.0,633.7 1881.0,628.1 1882.0,634.8 1883.0,627.7 1884.0,635.5 1885.0,627.6 1886.0,635.7 1887.0,627.4 1888.0,632.0" fill="none" stroke="#0c0cff" stroke-width="2.6" stroke-linejoin="round"/>
<polyline points="1931.6,623.0 1932.6,625.3 1933.6,618.3 1934.6,625.2 1935.6,617.1 1936.6,622.8 1937.6,614.1 1938.7,619.4 1939.7,611.9 1940.7,619.9 1941.7,610.7 1942.7,617.8 1943.7,608.5 1944.7,612.0" fill="none" stroke="#0c0cff" stroke-width="2.6" stroke-linejoin="round"/>
<polyline points="1944.7,612.0 1945.8,613.9 1946.9,607.2 1948.0,613.5 1949.1,605.0 1950.2,613.0 1951.2,603.8 1952.3,611.2 1953.4,602.3 1954.5,610.1 1955.6,605.5" fill="none" stroke="#0c0cff" stroke-width="2.6" stroke-linejoin="round"/>
<polyline points="1955.6,605.5 1956.7,610.5 1957.8,604.8 1958.9,610.9 1960.0,607.2 1961.0,613.9 1962.1,609.4 1963.2,617.2 1964.3,610.3 1965.4,618.8 1966.5,616.0" fill="none" stroke="#0c0cff" stroke-width="2.6" stroke-linejoin="round"/>
<line x1="385" y1="538" x2="385" y2="576" stroke="#1a1a5a" stroke-width="6"/>
<line x1="385" y1="576" x2="385" y2="759" stroke="#3c3cb8" stroke-width="6"/>
<line x1="385" y1="759" x2="385" y2="1011" stroke="#4b7d4b" stroke-width="6"/>
<text x="341" y="1441.5" font-size="52.5" text-anchor="end" font-family='"Liberation Sans", sans-serif' fill="#1c1c1c">0,0</text>
<text x="326" y="1199.1" font-size="52.5" text-anchor="end" font-family='"Liberation Sans", sans-serif' fill="#1c1c1c">4,0x10</text>
<text x="325.5" y="1175.1" font-size="35" font-family='"Liberation Sans", sans-serif' fill="#1c1c1c">5</text>
<text x="326" y="956.7" font-size="52.5" text-anchor="end" font-family='"Liberation Sans", sans-serif' fill="#1c1c1c">8,0x10</text>
<text x="325.5" y="932.7" font-size="35" font-family='"Liberation Sans", sans-serif' fill="#1c1c1c">5</text>
<text x="326" y="714.3" font-size="52.5" text-anchor="end" font-family='"Liberation Sans", sans-serif' fill="#1c1c1c">1,2x10</text>
<text x="325.5" y="690.3" font-size="35" font-family='"Liberation Sans", sans-serif' fill="#1c1c1c">6</text>
<text x="326" y="471.9" font-size="52.5" text-anchor="end" font-family='"Liberation Sans", sans-serif' fill="#1c1c1c">1,6x10</text>
<text x="325.5" y="447.9" font-size="35" font-family='"Liberation Sans", sans-serif' fill="#1c1c1c">6</text>
<text x="326" y="229.5" font-size="52.5" text-anchor="end" font-family='"Liberation Sans", sans-serif' fill="#1c1c1c">2,0x10</text>
<text x="325.5" y="205.5" font-size="35" font-family='"Liberation Sans", sans-serif' fill="#1c1c1c">6</text>
<text x="2060" y="1439.5" font-size="52.5" font-family='"Liberation Sans", sans-serif' fill="#1c1c1c">0</text>
<text x="2060" y="1136.5" font-size="52.5" font-family='"Liberation Sans", sans-serif' fill="#1c1c1c">50</text>
<text x="2060" y="833.5" font-size="52.5" font-family='"Liberation Sans", sans-serif' fill="#1c1c1c">100</text>
<text x="2060" y="530.5" font-size="52.5" font-family='"Liberation Sans", sans-serif' fill="#1c1c1c">150</text>
<text x="2060" y="227.5" font-size="52.5" font-family='"Liberation Sans", sans-serif' fill="#1c1c1c">200</text>
<text x="385.0" y="1507.5" font-size="52.5" text-anchor="middle" font-family='"Liberation Sans", sans-serif' fill="#1c1c1c">0</text>
<text x="728.4" y="1507.5" font-size="52.5" text-anchor="middle" font-family='"Liberation Sans", sans-serif' fill="#1c1c1c">5000</text>
<text x="1072.0" y="1507.5" font-size="52.5" text-anchor="middle" font-family='"Liberation Sans", sans-serif' fill="#1c1c1c">10000</text>
<text x="1416.5" y="1507.5" font-size="52.5" text-anchor="middle" font-family='"Liberation Sans", sans-serif' fill="#1c1c1c">15000</text>
<text x="1757.5" y="1507.5" font-size="52.5" text-anchor="middle" font-family='"Liberation Sans", sans-serif' fill="#1c1c1c">20000</text>
<text x="1208" y="1609" font-size="66" text-anchor="middle" font-family='"Liberation Sans", sans-serif' fill="#1c1c1c">t [s]</text>
<text transform="translate(87.5,784) rotate(-90)" font-size="66" text-anchor="middle" font-family='"Liberation Sans", sans-serif' fill="#1c1c1c">R [&#937;]</text>
<text transform="translate(2221.5,818) rotate(-90)" font-size="66" text-anchor="middle" font-family='"Liberation Sans", sans-serif' fill="#1c1c1c">CO [ppm] / rh [%]</text>
<line x1="439" y1="78" x2="590" y2="78" stroke="#7f7fff" stroke-width="6.5"/>
<line x1="439" y1="169" x2="590" y2="169" stroke="#6abf6a" stroke-width="6.5"/>
<text x="610" y="101" font-size="65" font-family='"Liberation Sans", sans-serif' fill="#1c1c1c">1</text>
<text x="644" y="70" font-size="36" font-family='"Liberation Sans", sans-serif' fill="#1c1c1c">st</text>
<text x="692" y="101" font-size="65" font-family='"Liberation Sans", sans-serif' fill="#1c1c1c">measurement</text>
<text x="607" y="192" font-size="65" font-family='"Liberation Sans", sans-serif' fill="#1c1c1c">2</text>
<text x="644" y="162" font-size="36" font-family='"Liberation Sans", sans-serif' fill="#1c1c1c">nd</text>
<text x="704" y="192" font-size="65" font-family='"Liberation Sans", sans-serif' fill="#1c1c1c">measurement</text>
<line x1="1572" y1="85" x2="1721" y2="85" stroke="#d2d2d2" stroke-width="7"/>
<line x1="1572" y1="167" x2="1711" y2="167" stroke="#a8a8a8" stroke-width="6" stroke-dasharray="18,11"/>
<text x="1740" y="108" font-size="65" font-family='"Liberation Sans", sans-serif' fill="#1c1c1c">CO [ppm]</text>
<text x="1740" y="190" font-size="65" font-family='"Liberation Sans", sans-serif' fill="#1c1c1c">rh [%]</text>
</g>
</svg>
</body></html>
